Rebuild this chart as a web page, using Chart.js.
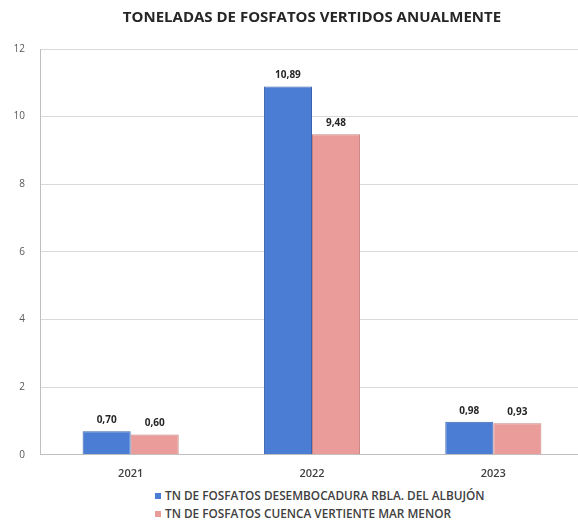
<!DOCTYPE html>
<html>
<head>
<meta charset="utf-8">
<script src="https://cdn.jsdelivr.net/npm/chart.js@4.4.1/dist/chart.umd.min.js"></script>
<style>
  html, body { margin: 0; padding: 0; background: #fff; overflow: hidden; }
  #wrap { position: relative; width: 578px; height: 521px; overflow: hidden; }
  #box { position: absolute; left: 0; top: 0; width: 590px; height: 484px; }
  #legend { position: absolute; left: 155px; top: 486px; font-family: "Open Sans", sans-serif; font-size: 11.8px; font-weight: 600; color: #404040; }
  #legend div { height: 18px; line-height: 18px; white-space: nowrap; }
  #legend span { display: inline-block; width: 6px; height: 6px; margin-right: 4px; vertical-align: 1px; }
</style>
</head>
<body>
<div id="wrap">
  <div id="box"><canvas id="fosfatos"></canvas></div>
  <div id="legend"></div>
</div>
<script>
const years = ["2021", "2022", "2023"];
const albujon = [0.70, 10.89, 0.98];
const cuenca = [0.60, 9.48, 0.93];
const seriesNames = [
  "TN  DE FOSFATOS DESEMBOCADURA RBLA. DEL ALBUJÓN",
  "TN  DE FOSFATOS CUENCA VERTIENTE MAR MENOR"
];
const yTicks = [0, 2, 4, 6, 8, 10, 12];

const fillColors = ["#4A7DD3", "#E99C9A"];
const edgeColors = ["#3A63AE", "#C98282"];

// value labels above each bar, comma decimals like the original
const barLabels = {
  id: "barLabels",
  afterDatasetsDraw(chart) {
    const ctx = chart.ctx;
    ctx.save();
    ctx.font = "bold 10px 'Open Sans', sans-serif";
    ctx.fillStyle = "#262626";
    ctx.textAlign = "center";
    ctx.textBaseline = "middle";
    chart.data.datasets.forEach((ds, i) => {
      chart.getDatasetMeta(i).data.forEach((bar, j) => {
        ctx.fillText(ds.data[j].toFixed(2).replace(".", ","), bar.x, bar.y - 11);
      });
    });
    ctx.restore();
  }
};

const ctx = document.getElementById("fosfatos").getContext("2d");
const chart = new Chart(ctx, {
  type: "bar",
  data: {
    labels: years,
    datasets: [
      { label: seriesNames[0], data: albujon, backgroundColor: fillColors[0], borderColor: edgeColors[0], borderWidth: 1 },
      { label: seriesNames[1], data: cuenca, backgroundColor: fillColors[1], borderColor: edgeColors[1], borderWidth: 1 }
    ]
  },
  options: {
    responsive: true,
    maintainAspectRatio: false,
    animation: false,
    layout: { padding: { left: 0, right: 6, top: 0, bottom: 0 } },
    datasets: { bar: { categoryPercentage: 0.53, barPercentage: 1.0 } },
    plugins: {
      legend: { display: false },
      tooltip: { enabled: false },
      title: {
        display: true,
        fullSize: false,
        text: "TONELADAS DE FOSFATOS VERTIDOS ANUALMENTE",
        color: "#262626",
        font: { family: "'Open Sans', sans-serif", size: 15, weight: "bold" },
        padding: { top: 9, bottom: 22 }
      }
    },
    scales: {
      x: {
        grid: { display: false },
        border: { color: "#bfbfbf" },
        ticks: { color: "#404040", font: { family: "'Open Sans', sans-serif", size: 11, weight: 600 }, padding: 4 }
      },
      y: {
        min: 0,
        max: 12,
        afterBuildTicks: axis => { axis.ticks = yTicks.map(v => ({ value: v })); },
        afterFit: axis => { axis.width = 40; },
        grid: { color: "#d9d9d9", drawTicks: false },
        border: { color: "#bfbfbf" },
        ticks: { color: "#595959", font: { family: "'Open Sans', sans-serif", size: 10 }, padding: 15 }
      }
    }
  },
  plugins: [barLabels]
});

// legend built from the same series
const legend = document.getElementById("legend");
seriesNames.forEach((name, i) => {
  const row = document.createElement("div");
  const sw = document.createElement("span");
  sw.style.background = fillColors[i];
  row.appendChild(sw);
  row.appendChild(document.createTextNode(name));
  legend.appendChild(row);
});
</script>
</body>
</html>
